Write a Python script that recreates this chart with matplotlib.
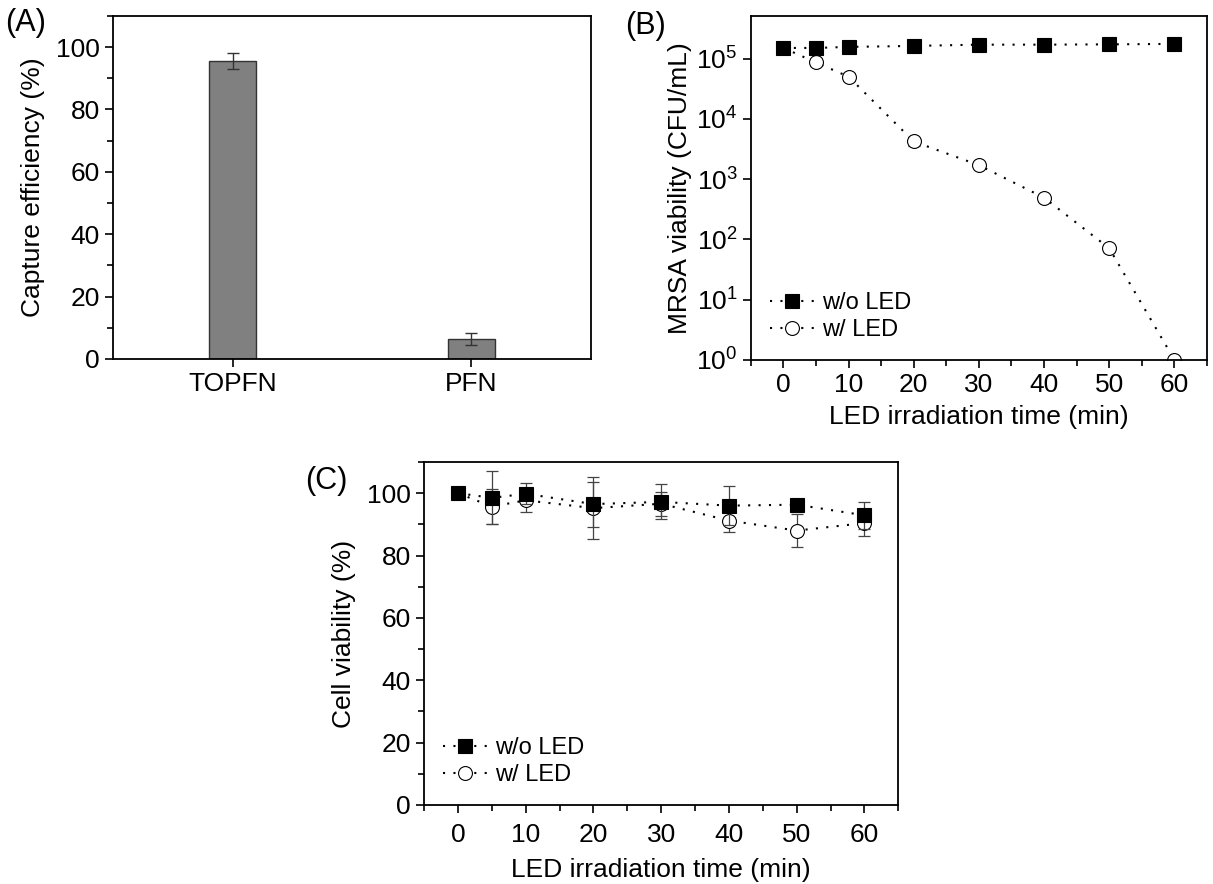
import matplotlib
matplotlib.use("Agg")
import matplotlib.pyplot as plt
from matplotlib.ticker import MultipleLocator, LogLocator, NullLocator

plt.rcParams['font.family'] = ['Liberation Sans', 'DejaVu Sans']
plt.rcParams['mathtext.fontset'] = 'custom'
plt.rcParams['mathtext.rm'] = 'Liberation Sans'
plt.rcParams['mathtext.default'] = 'regular'

# (A) capture efficiency
bar_labels = ["TOPFN", "PFN"]
capture = [95.5, 6.3]
capture_err = [2.6, 2.0]

# (B) MRSA viability (CFU/mL)
time_b = [0, 5, 10, 20, 30, 40, 50, 60]
mrsa_dark = [1.5e5, 1.5e5, 1.56e5, 1.62e5, 1.7e5, 1.7e5, 1.72e5, 1.75e5]
mrsa_dark_err = [1.2e4, 1.0e4, 1.0e4, 1.0e4, 1.0e4, 1.0e4, 1.0e4, 1.0e4]
mrsa_led = [1.5e5, 8.6e4, 5.0e4, 4.2e3, 1.7e3, 490, 71, 1.0]
mrsa_led_err = [1.2e4, 1.2e4, 8.0e3, 6.0e2, 2.0e2, 60, 10, 0]

# (C) cell viability (%)
time_c = [0, 5, 10, 20, 30, 40, 50, 60]
cell_dark = [100, 98.5, 99.8, 96.5, 97.2, 96.0, 96.3, 92.9]
cell_dark_err = [0.5, 8.5, 3.4, 7.2, 5.6, 6.3, 1.0, 4.3]
cell_led = [100, 95.7, 97.7, 95.2, 96.6, 91.2, 88.0, 90.4]
cell_led_err = [0.5, 5.5, 3.6, 10.0, 3.9, 3.8, 5.3, 4.0]

TICK_FS = 19
LAB_FS = 19
LEG_FS = 17
ls = (0, (1, 4))

fig = plt.figure(figsize=(12.13, 8.84), dpi=100)
axA = fig.add_axes([0.0932, 0.594, 0.394, 0.388])
axB = fig.add_axes([0.619, 0.593, 0.376, 0.389])
axC = fig.add_axes([0.3496, 0.0894, 0.391, 0.388])


def style(ax):
    for s in ax.spines.values():
        s.set_linewidth(1.3)
    ax.tick_params(which='both', direction='out', labelsize=TICK_FS, width=1.2)
    ax.tick_params(which='major', length=6)
    ax.tick_params(which='minor', length=4)


def series(ax, x, y, err, marker, face, label, ms):
    ax.errorbar(x, y, yerr=err, fmt='none', ecolor='#444444', elinewidth=0.9, capsize=4, capthick=0.9)
    ax.plot(x, y, color='black', linestyle=ls, linewidth=1.5, marker=marker, markersize=ms,
            markerfacecolor=face, markeredgecolor='black', markeredgewidth=0.8, label=label)


def add_legend(ax):
    h, l = ax.get_legend_handles_labels()
    ax.legend(h[::-1], l[::-1], loc='lower left', bbox_to_anchor=(0.0, 0.0), frameon=False,
              fontsize=LEG_FS, handlelength=1.9, handletextpad=0.3, labelspacing=0.2, borderpad=0.3)


# --- A ---
axA.bar([1, 2], capture, width=0.2, color='#808080', edgecolor='#333333', linewidth=1.0,
        yerr=capture_err, capsize=4, error_kw=dict(ecolor='#333333', elinewidth=1.0, capthick=1.0))
axA.set_xlim(0.5, 2.5)
axA.set_ylim(0, 110)
axA.set_xticks([1, 2])
axA.set_xticklabels(bar_labels)
axA.yaxis.set_major_locator(MultipleLocator(20))
axA.yaxis.set_minor_locator(MultipleLocator(10))
axA.set_ylabel("Capture efficiency (%)", fontsize=LAB_FS, labelpad=8)
style(axA)
fig.text(0.004, 0.974, "(A)", fontsize=22, va='center')

# --- B ---
series(axB, time_b, mrsa_led, mrsa_led_err, 'o', 'white', 'w/ LED', 10)
series(axB, time_b, mrsa_dark, mrsa_dark_err, 's', 'black', 'w/o LED', 9.5)
axB.set_yscale('log')
axB.set_ylim(1, 5.1e5)
axB.set_xlim(-5, 65)
axB.xaxis.set_major_locator(MultipleLocator(10))
axB.xaxis.set_minor_locator(MultipleLocator(5))
axB.yaxis.set_major_locator(LogLocator(base=10, numticks=10))
axB.yaxis.set_minor_locator(NullLocator())
axB.set_xlabel("LED irradiation time (min)", fontsize=LAB_FS, labelpad=6)
axB.set_ylabel("MRSA viability (CFU/mL)", fontsize=LAB_FS, labelpad=3)
style(axB)
add_legend(axB)
fig.text(0.515, 0.971, "(B)", fontsize=22, va='center')

# --- C ---
series(axC, time_c, cell_led, cell_led_err, 'o', 'white', 'w/ LED', 10)
series(axC, time_c, cell_dark, cell_dark_err, 's', 'black', 'w/o LED', 9.5)
axC.set_xlim(-5, 65)
axC.set_ylim(0, 110)
axC.xaxis.set_major_locator(MultipleLocator(10))
axC.xaxis.set_minor_locator(MultipleLocator(5))
axC.yaxis.set_major_locator(MultipleLocator(20))
axC.yaxis.set_minor_locator(MultipleLocator(10))
axC.set_xlabel("LED irradiation time (min)", fontsize=LAB_FS, labelpad=8)
axC.set_ylabel("Cell viability (%)", fontsize=LAB_FS, labelpad=8)
style(axC)
axC.tick_params(axis='x', pad=7)
add_legend(axC)
fig.text(0.2515, 0.456, "(C)", fontsize=22, va='center')

fig.savefig("out.png", dpi=100)
